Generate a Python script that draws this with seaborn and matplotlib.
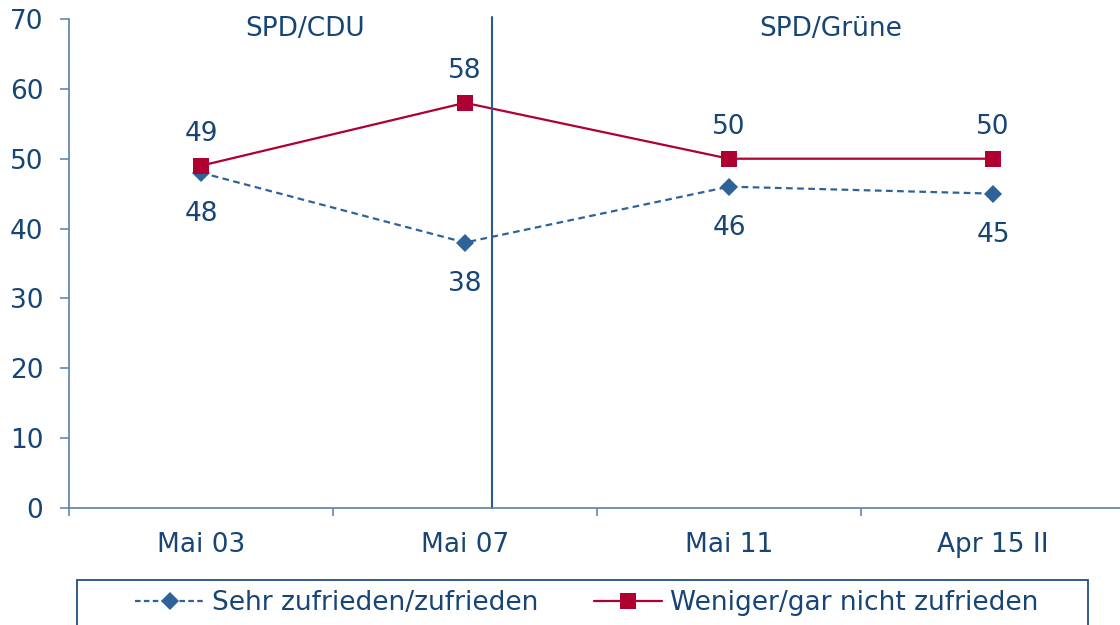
import numpy as np
import pandas as pd
import matplotlib
matplotlib.use('Agg')
import matplotlib.pyplot as plt
from matplotlib.patches import Rectangle
import seaborn as sns

# Data
categories = ['Mai 03', 'Mai 07', 'Mai 11', 'Apr 15 II']
zufrieden = [48, 38, 46, 45]
nicht_zufrieden = [49, 58, 50, 50]
series_names = ['Sehr zufrieden/zufrieden', 'Weniger/gar nicht zufrieden']
periods = ['SPD/CDU', 'SPD/Grüne']

text_col = '#164576'
blue = '#2E6399'
red = '#AE0031'
axis_col = '#5A7FA8'
fs = 19

sns.set_style('white')
plt.rcParams['font.family'] = ['DejaVu Sans']

df = pd.DataFrame({
    'pos': np.tile(np.arange(len(categories)), 2),
    'value': zufrieden + nicht_zufrieden,
    'serie': np.repeat(series_names, len(categories)),
})

W, H = 1120, 625
fig = plt.figure(figsize=(W / 100, H / 100), dpi=100)
# axes runs a little past the right edge, as in the original
ax = fig.add_axes([69 / W, 1 - 508 / H, 1056 / W, 489 / H])

sns.lineplot(data=df, x='pos', y='value', hue='serie', style='serie',
             palette=[blue, red], dashes=[(3, 2), ''], markers=['D', 's'],
             linewidth=1.6, markeredgewidth=0, ax=ax, legend=False)
for line, ms in zip(ax.lines, [9, 11.5]):
    line.set_markersize(ms)

ax.set_xlim(-0.5, 3.5)
ax.set_ylim(0, 70)
ax.set_yticks(range(0, 71, 10))
ax.set_xticks(np.arange(-0.5, 4, 1))
ax.set_xticklabels([])
ax.set_xticks(np.arange(len(categories)), minor=True)
ax.set_xticklabels(categories, minor=True)
ax.tick_params(axis='x', which='minor', bottom=True, length=0, pad=17, labelsize=fs,
               labelcolor=text_col)
ax.tick_params(axis='x', which='major', bottom=True, direction='out', length=6,
               width=1.1, color=axis_col)
ax.tick_params(axis='y', direction='out', length=6.5, width=1.1, color=axis_col,
               labelsize=fs, labelcolor=text_col, pad=12, left=True)
ax.set_xlabel('')
ax.set_ylabel('')
for s in ['top', 'right']:
    ax.spines[s].set_visible(False)
for s in ['left', 'bottom']:
    ax.spines[s].set_color(axis_col)
    ax.spines[s].set_linewidth(1.2)

# period divider and labels
ax.plot([1.102, 1.102], [0, 70.3], color='#2C5A8A', linewidth=1.5, clip_on=False)
ax.text(0.394, 68.6, periods[0], ha='center', va='center', fontsize=fs, color=text_col)
ax.text(2.386, 68.6, periods[1], ha='center', va='center', fontsize=fs, color=text_col)

# value labels
for i, v in enumerate(nicht_zufrieden):
    ax.annotate(str(v), (i, v), xytext=(0, 23), textcoords='offset points',
                ha='center', va='center', fontsize=fs, color=text_col)
for i, v in enumerate(zufrieden):
    ax.annotate(str(v), (i, v), xytext=(0, -30), textcoords='offset points',
                ha='center', va='center', fontsize=fs, color=text_col)

# legend box (runs off the bottom edge)
fig.patches.append(Rectangle((77 / W, -0.01), (1088 - 77) / W, 1 - 580 / H + 0.01,
                             transform=fig.transFigure, fill=False,
                             edgecolor='#1F4E85', linewidth=1.3))
handles = [
    plt.Line2D([], [], color=blue, linestyle=(0, (2.5, 1.5)), linewidth=1.6, marker='D',
               markersize=9, markeredgewidth=0),
    plt.Line2D([], [], color=red, linestyle='-', linewidth=1.6, marker='s',
               markersize=11.5, markeredgewidth=0),
]
fig.legend(handles, series_names, ncol=2, loc='center',
           bbox_to_anchor=(587 / W, 1 - 603 / H), fontsize=fs, frameon=False,
           handlelength=2.6, handletextpad=0.3, columnspacing=2.1,
           labelcolor=text_col)

fig.savefig('out.png', dpi=100)
